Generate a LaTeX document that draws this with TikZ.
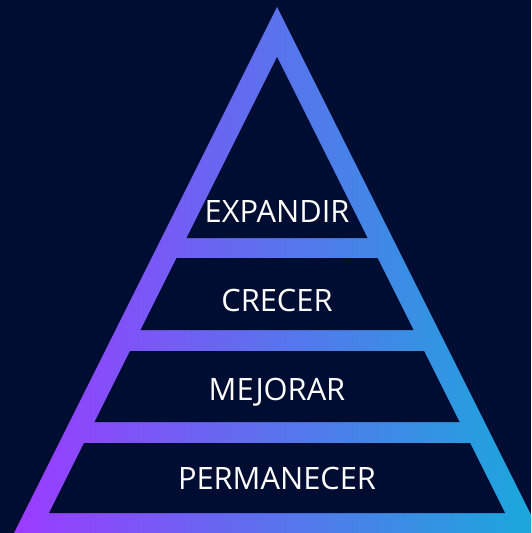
\documentclass[tikz,border=0pt]{standalone}
\usepackage{fontspec}
\newfontfamily\levelfont{Open Sans}
\definecolor{navybg}{HTML}{000D33}
\definecolor{pyrpurple}{HTML}{9C3BFF}
\definecolor{pyrcyan}{HTML}{18AADB}
\tikzset{
  level/.style={text=white, font=\levelfont\fontsize{30.8}{36}\selectfont, anchor=base, inner sep=0pt}
}
\begin{document}
\begin{tikzpicture}[x=1pt,y=-1pt]
	\useasboundingbox (0,0) rectangle (531,533);
	\clip (0,0) rectangle (531,533);
	\fill[navybg] (0,0) rectangle (531,533);
	% gradient frame
	\shade[left color=pyrpurple, right color=pyrcyan] (277,7) -- (541,535) -- (13,535) -- cycle;
	% dark levels cut out of the frame
	\foreach \a/\b in {57/238, 258/330, 351/422, 443/513}
	  \fill[navybg] ({277-(\a-57)/2},\a) -- ({277+(\a-57)/2},\a) -- ({277+(\b-57)/2},\b) -- ({277-(\b-57)/2},\b) -- cycle;
	\node[level] (expandir) at (277,222) {EXPANDIR};
	\node[level] (crecer) at (277,311) {CRECER};
	\node[level] (mejorar) at (277,400) {MEJORAR};
	\node[level] (permanecer) at (277,489) {PERMANECER};
\end{tikzpicture}
\end{document}
